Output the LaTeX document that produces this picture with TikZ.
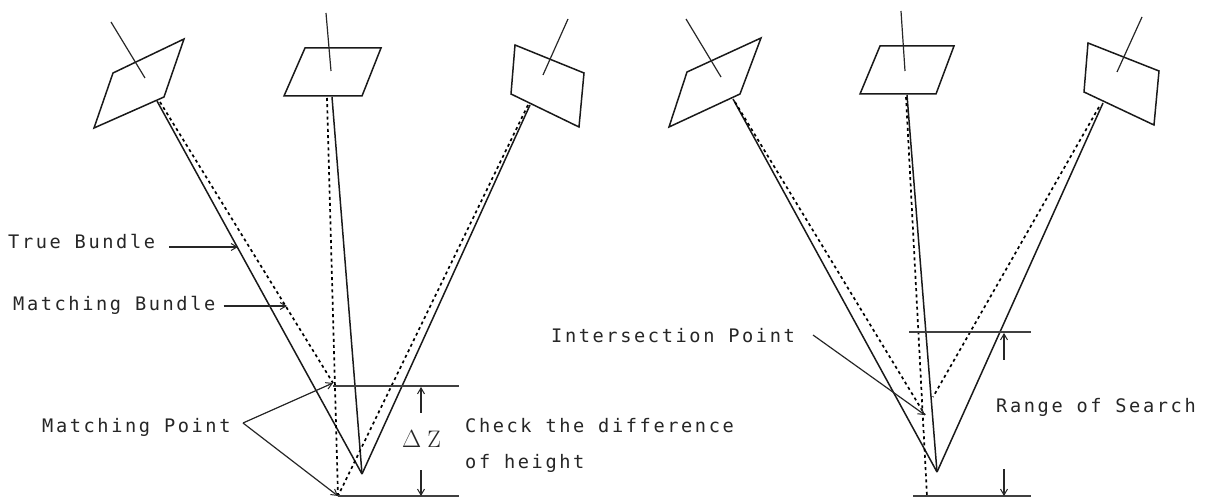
\documentclass[tikz,border=0pt]{standalone}
\usepackage{fontspec}
\usetikzlibrary{arrows.meta}
\newfontfamily\typefont[LetterSpace=14]{DejaVu Sans Mono}
\tikzset{
  ink/.style={draw=black!90,line width=1.5pt,line join=miter},
  thinink/.style={draw=black!85,line width=1.2pt},
  rule/.style={draw=black!75,line width=1.1pt},
  dots/.style={draw=black,line width=1.7pt,dash pattern=on 3pt off 3.2pt},
  tip/.style={draw=black!85,line width=1.2pt,-{Straight Barb[length=6pt,width=7pt,line width=1pt]}},
  lab/.style={anchor=base west,inner sep=0pt,font=\fontsize{18.7}{20}\selectfont\typefont,text=black!85},
}
\begin{document}
\begin{tikzpicture}[x=1bp,y=-1bp]
\useasboundingbox (0,0) rectangle (1214,499);
\fill[white] (0,0) rectangle (1214,499);
% ---- left panel: cameras
\draw[ink] (184,39) -- (113,73) -- (94,128) -- (164,97) -- cycle;
\draw[thinink] (111,22) -- (145,78);
\draw[ink] (305,48) -- (381,48) -- (362,96) -- (284,96) -- cycle;
\draw[thinink] (326,13) -- (331,71);
\draw[ink] (515,45) -- (584,73) -- (579,127) -- (511,94) -- cycle;
\draw[thinink] (568,19) -- (543,75);
\coordinate (aL) at (362,474);
\coordinate (mU) at (333,383);
\coordinate (mD) at (338,496);
\draw[ink] (157,101) -- (aL);
\draw[ink] (332,97) -- (aL);
\draw[ink] (530,105) -- (aL);
\draw[dots] (160,102) -- (mU);
\draw[dots] (327,98) -- (mD);
\draw[dots] (528,105) -- (mD);
\coordinate (hU) at (459,386);
\coordinate (hD) at (459,496);
\draw[rule] (mU |- hU) -- (hU);
\draw[rule] (mD) -- (hD);
% labels
\node[lab] (tb) at (8,249) {True Bundle};
\node[lab] (mb) at (13,311) {Matching Bundle};
\node[lab] (mp) at (42,432) {Matching Point};
\node[lab] (ck) at (465,432) {Check the difference};
\node[lab] (oh) at (465,468) {of height};
\node[anchor=base west,inner sep=0pt,font=\fontsize{24}{26}\selectfont,text=black!85] (dz) at (402,447) {$\Delta$\hspace{6pt}Z};
\coordinate (tbh) at (238,247);
\coordinate (mbh) at (287,306);
\coordinate (v) at (243,423);
\draw[tip] (tb.east |- tbh) ++(14,0) -- (tbh);
\draw[tip] (mb.east |- mbh) ++(8,0) -- (mbh);
\draw[tip] (v) -- (mU);
\draw[tip] (v) -- (mD);
\coordinate (dzU) at (421,413);
\coordinate (dzD) at (421,470);
\draw[tip] (dzU) -- (421,387);
\draw[tip] (dzD) -- (421,496);
% ---- right panel: cameras
\draw[ink] (761,38) -- (687,72) -- (669,127) -- (740,94) -- cycle;
\draw[thinink] (686,19) -- (721,77);
\draw[ink] (880,46) -- (954,46) -- (936,94) -- (860,94) -- cycle;
\draw[thinink] (901,11) -- (905,71);
\draw[ink] (1088,43) -- (1159,71) -- (1154,125) -- (1084,92) -- cycle;
\draw[thinink] (1142,17) -- (1117,72);
\coordinate (aR) at (937,472);
\coordinate (iP) at (925,415);
\coordinate (iQ) at (933,397);
\coordinate (iB) at (927,496);
\draw[ink] (733,99) -- (aR);
\draw[ink] (907,95) -- (aR);
\draw[ink] (1103,103) -- (aR);
\draw[dots] (735,102) -- (iP);
\draw[dots] (906,97) -- (iB);
\draw[dots] (1099,107) -- (iQ);
\draw[rule] (909,332) -- (1031,332);
\draw[rule] (913,496) -- (1031,496);
\node[lab] (ip) at (551,343) {Intersection Point};
\node[lab] (rs) at (996,412) {Range of Search};
\coordinate (ipt) at (813,335);
\draw[tip] (ipt) -- (iP);
\draw[tip] (1004,360) -- (1004,333);
\draw[tip] (1004,469) -- (1004,496);
\end{tikzpicture}
\end{document}
